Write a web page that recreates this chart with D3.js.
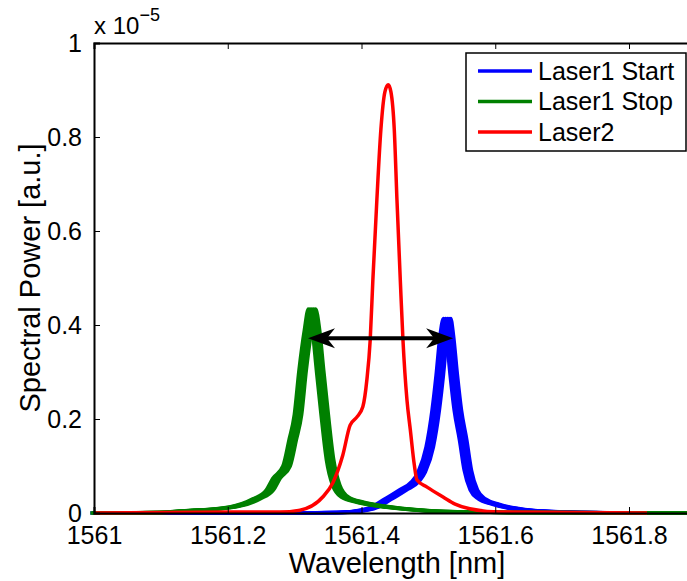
<!DOCTYPE html>
<html>
<head>
<meta charset="utf-8">
<script src="https://cdn.jsdelivr.net/npm/d3@7"></script>
<style>
  body { margin: 0; background: #fff; }
  text { font-family: "Liberation Sans", Arial, sans-serif; fill: #000; }
</style>
</head>
<body>
<div class="chart"></div>
<script>
// spectra, values in units of 1e-5
var blueW = [1561.0, 1561.3, 1561.368, 1561.413, 1561.438, 1561.462, 1561.480, 1561.490, 1561.502, 1561.511, 1561.517, 1561.523, 1561.528,
             1561.532, 1561.538, 1561.544, 1561.552, 1561.559, 1561.568, 1561.580, 1561.600, 1561.622, 1561.667, 1561.727, 1561.8, 1561.9];
var blueV = [0, 0, 0.001, 0.009, 0.028, 0.049, 0.066, 0.087, 0.140, 0.219, 0.293, 0.379, 0.414,
             0.379, 0.293, 0.219, 0.155, 0.091, 0.049, 0.030, 0.019, 0.011, 0.004, 0.001, 0, 0];

var greenW = [1561.0, 1561.10, 1561.133, 1561.208, 1561.243, 1561.263, 1561.273, 1561.288, 1561.297, 1561.305, 1561.312, 1561.320, 1561.326,
              1561.332, 1561.338, 1561.345, 1561.353, 1561.362, 1561.375, 1561.398, 1561.428, 1561.488, 1561.562, 1561.65, 1561.9];
var greenV = [0, 0.001, 0.004, 0.013, 0.030, 0.049, 0.074, 0.100, 0.155, 0.209, 0.304, 0.389, 0.434,
              0.389, 0.304, 0.209, 0.113, 0.060, 0.034, 0.023, 0.015, 0.006, 0.002, 0.001, 0];

var redW = [1561.0, 1561.233, 1561.278, 1561.308, 1561.342, 1561.357, 1561.372, 1561.383, 1561.393, 1561.402, 1561.408, 1561.413, 1561.417,
            1561.423, 1561.429, 1561.435, 1561.440, 1561.444, 1561.449, 1561.453, 1561.458, 1561.462, 1561.468, 1561.473, 1561.479, 1561.483,
            1561.498, 1561.522, 1561.540, 1561.562, 1561.607, 1561.827];
var redV = [0, 0.002, 0.002, 0.006, 0.034, 0.064, 0.123, 0.187, 0.204, 0.226, 0.283, 0.368, 0.496,
            0.667, 0.816, 0.896, 0.911, 0.896, 0.816, 0.667, 0.496, 0.368, 0.240, 0.177, 0.102, 0.070,
            0.055, 0.034, 0.019, 0.009, 0.002, 0];

var seriesNames = ["Laser1 Start", "Laser1 Stop", "Laser2"];
var seriesColors = ["#0000ff", "#008000", "#ff0000"];

// the double arrow between the two laser1 peaks
var arrowW = [1561.320, 1561.537];
var arrowV = 0.372;

// 1562 sits past the cropped right edge, so only its tick is kept
var xTicks = [1561, 1561.2, 1561.4, 1561.6, 1561.8];
var yTicks = [0, 0.2, 0.4, 0.6, 0.8, 1];

// the traces are a bundle of repeated sweeps; fake the bundle with small wavelength shifts
var bandShift = [-0.0055, -0.00275, 0, 0.00275, 0.0055];

var svgWidth = 687, svgHeight = 581;
var margin = { top: 43, left: 94 };
var width = 668.75, height = 470;

var svg = d3.select(".chart").append("svg")
    .attr("width", svgWidth)
    .attr("height", svgHeight);

var chartGroup = svg.append("g")
    .attr("transform", `translate(${margin.left}, ${margin.top})`);

var x = d3.scaleLinear().domain([1561, 1562]).range([0, width]);
var y = d3.scaleLinear().domain([0, 1]).range([height, 0]);

var line = d3.line()
    .x(d => x(d[0]))
    .y(d => y(d[1]))
    .curve(d3.curveMonotoneX);

function pairs(ws, vs, shift) {
    return ws.map((w, i) => [w + shift, vs[i]]);
}

// blue, then green, then red on top
var series = [[blueW, blueV, bandShift], [greenW, greenV, bandShift], [redW, redV, [0]]];
series.forEach(function(s, k) {
    s[2].forEach(function(sh) {
        chartGroup.append("path")
            .attr("d", line(pairs(s[0], s[1], sh)))
            .attr("fill", "none")
            .attr("stroke", seriesColors[k])
            .attr("stroke-width", 3.5)
            .attr("stroke-linejoin", "round");
    });
});

// axes (MATLAB box with inward ticks)
var xAxisB = d3.axisBottom(x).tickValues(xTicks).tickSize(-6).tickFormat(d3.format("")).tickPadding(13);
var xAxisT = d3.axisTop(x).tickValues(xTicks).tickSize(-6).tickFormat("");
var yAxisL = d3.axisLeft(y).tickValues(yTicks).tickSize(-6).tickFormat(d => d === 0 || d === 1 ? d : d3.format(".1f")(d)).tickPadding(12);

var gx = chartGroup.append("g").attr("transform", `translate(0,${height})`).call(xAxisB);
var gxt = chartGroup.append("g").call(xAxisT);
var gy = chartGroup.append("g").call(yAxisL);

[gx, gxt, gy].forEach(function(g) {
    g.select(".domain").attr("stroke", "#000").attr("stroke-width", 2);
    g.selectAll(".tick line").attr("stroke", "#000").attr("stroke-width", 1);
    g.selectAll("text").attr("font-size", 25).attr("font-family", "Liberation Sans, Arial, sans-serif").attr("fill", "#000");
});
gx.selectAll(".tick text").attr("dy", "0.71em");
gy.selectAll(".tick text").attr("dy", "0.35em");

// arrow
var ax0 = x(arrowW[0]), ax1 = x(arrowW[1]), ay = y(arrowV);
chartGroup.append("line")
    .attr("x1", ax0 + 15).attr("x2", ax1 - 15)
    .attr("y1", ay).attr("y2", ay)
    .attr("stroke", "#000").attr("stroke-width", 4);
function head(px, dir) {
    return `M${px},${ay} L${px + dir * 27},${ay - 10} L${px + dir * 19},${ay} L${px + dir * 27},${ay + 10} Z`;
}
chartGroup.append("path").attr("d", head(ax0, 1)).attr("fill", "#000");
chartGroup.append("path").attr("d", head(ax1, -1)).attr("fill", "#000");

// exponent
var expo = svg.append("text")
    .attr("x", 94).attr("y", 34)
    .attr("font-size", 24);
expo.append("tspan").text("x 10");
expo.append("tspan").attr("dy", -13).attr("font-size", 18).text("\u22125");

// axis labels
svg.append("text")
    .attr("x", 397).attr("y", 573)
    .attr("text-anchor", "middle")
    .attr("font-size", 29)
    .text("Wavelength [nm]");

svg.append("text")
    .attr("transform", "rotate(-90)")
    .attr("x", -(margin.top + height / 2)).attr("y", 40)
    .attr("text-anchor", "middle")
    .attr("font-size", 29)
    .text("Spectral Power [a.u.]");

// legend
var legend = svg.append("g").attr("transform", "translate(466,53)");
legend.append("rect")
    .attr("width", 220).attr("height", 98)
    .attr("fill", "#fff").attr("stroke", "#000").attr("stroke-width", 1.5);
seriesNames.forEach(function(name, i) {
    var ly = 18 + i * 30.5;
    legend.append("line")
        .attr("x1", 12).attr("x2", 66).attr("y1", ly).attr("y2", ly)
        .attr("stroke", seriesColors[i]).attr("stroke-width", 3.5);
    legend.append("text")
        .attr("x", 72).attr("y", ly).attr("dy", "0.35em")
        .attr("font-size", 25)
        .text(name);
});
</script>
</body>
</html>
